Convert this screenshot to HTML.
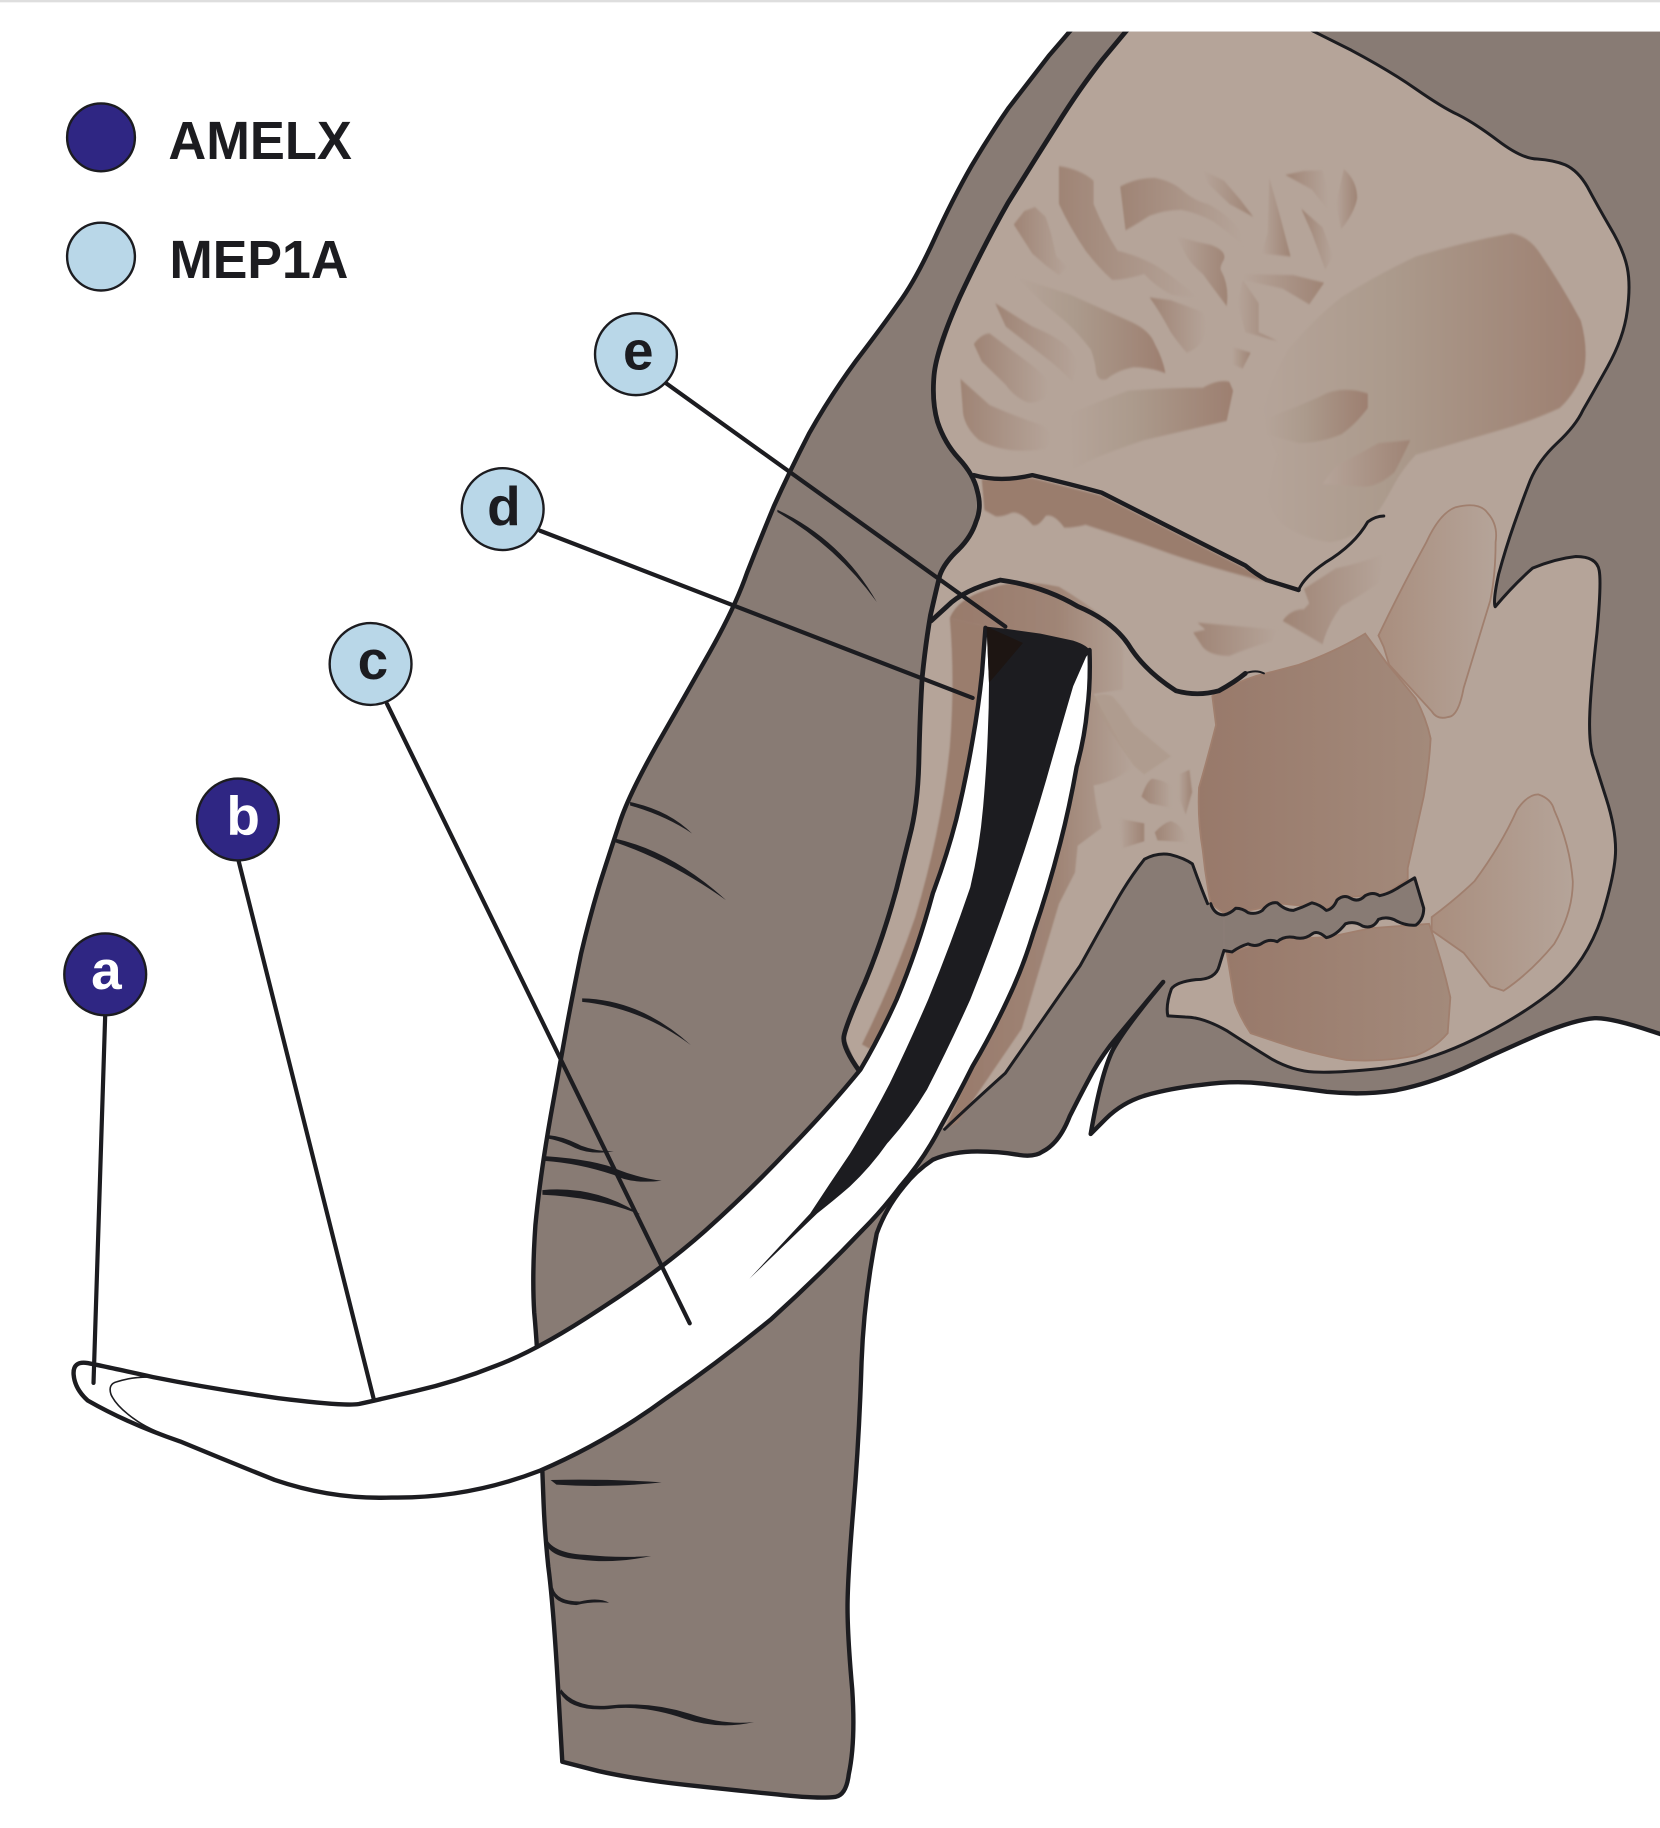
<!DOCTYPE html>
<html><head><meta charset="utf-8"><title>Elephant tusk diagram</title>
<style>
html,body{margin:0;padding:0;background:#fff;width:1660px;height:1828px;overflow:hidden}
svg{display:block}
path,line,circle,polyline,polygon{vector-effect:non-scaling-stroke}
text{font-family:"Liberation Sans",sans-serif;font-weight:700;fill:#1c1c20}
.ol{fill:none;stroke:#1c1c20;stroke-linecap:round;stroke-linejoin:round}
.mb{stroke:#a07f6e;stroke-width:1.8}
</style></head><body>
<svg xmlns="http://www.w3.org/2000/svg" width="1660" height="1828" viewBox="0 0 1420 1563.7">
<defs>
<linearGradient id="gl"><stop offset="0" stop-color="#9f8475"/><stop offset="1" stop-color="#b5a499"/></linearGradient>
<linearGradient id="gr"><stop offset="0" stop-color="#b5a499"/><stop offset="1" stop-color="#9f8475"/></linearGradient>
<linearGradient id="gs"><stop offset="0" stop-color="#b5a499"/><stop offset=".4" stop-color="#ab9a8c"/><stop offset="1" stop-color="#9d7f70"/></linearGradient>
<linearGradient id="gm"><stop offset="0" stop-color="#98796a"/><stop offset="1" stop-color="#a38a7b"/></linearGradient>
<linearGradient id="gp"><stop offset="0" stop-color="#a98e7e"/><stop offset="1" stop-color="#b5a499"/></linearGradient>
<linearGradient id="gk"><stop offset="0" stop-color="#987a6b"/><stop offset=".6" stop-color="#a08576"/><stop offset="1" stop-color="#b5a499"/></linearGradient>
<filter id="soft" x="-5%" y="-5%" width="110%" height="110%"><feGaussianBlur stdDeviation="1.6"/></filter>
</defs>
<rect width="1420" height="1563.7" fill="#fff"/>

<!-- Grey head and trunk -->
<path fill="#887b74" stroke="#1c1c20" stroke-width="4.4" stroke-linejoin="round" d="M921 20 L915 27 L897 48 Q880 70 863 92 Q847 115 831 142 Q815 170 799 205 Q783 240 769 259 Q755 279 732 309 Q710 339 692 371 Q675 404 662 433 Q650 462 639 490 Q629 519 607 558 Q585 597 562 637 Q539 678 531 701 Q523 725 514 753 Q505 782 497 816 Q490 850 485 877 Q480 904 471 955 Q462 1006 458 1048 Q455 1091 457 1123 Q460 1155 462 1208 Q464 1261 465 1286 Q466 1311 469 1340 Q473 1370 477 1437 L481 1507 L512 1515 Q543 1522 588 1527 Q634 1532 665 1535 Q700 1539 715 1537 Q724 1535 726 1518 Q732 1490 729 1445 Q725 1400 725 1375 Q725 1350 730 1290 Q735 1230 737 1165 Q739 1110 750 1055 Q758 1033 773 1015 Q783 1002 798 992 Q815 985 836 985 Q855 985 872 988 Q885 990 892 985 Q906 978 915 955 Q924 937 931 924 Q938 910 950 894 Q963 878 995 840 Q963 878 952 898 Q942 918 933 970 L946 957 Q960 943 980 937 Q1001 931 1028 928 Q1056 924 1081 927 Q1106 930 1135 934 Q1165 937 1192 933 Q1220 928 1252 914 Q1284 899 1316 885 Q1348 872 1364 871 Q1380 870 1430 888 L1430 20 Z"/>

<!-- Bone fill -->
<path fill="#b5a499" d="M963 27 L1124 27 L1156 43 Q1188 60 1211 76 Q1234 92 1247 98 Q1261 105 1281 120 Q1302 136 1315 136 Q1329 137 1339 141 Q1350 146 1358 160 Q1366 175 1377 194 Q1389 214 1392 229 Q1395 244 1392 266 Q1389 289 1375 314 Q1361 339 1354 351 Q1348 364 1332 379 Q1316 394 1309 411 Q1302 429 1295 449 Q1288 469 1282 491 Q1277 514 1279 519 Q1295 500 1311 486 Q1330 478 1348 476 Q1366 476 1368 488 Q1370 499 1366 542 Q1361 586 1360 609 Q1359 632 1362 645 Q1366 658 1374 683 Q1382 708 1382 727 Q1382 746 1370 785 Q1357 823 1330 846 Q1302 869 1261 889 Q1220 909 1181 914 Q1143 918 1124 917 Q1106 916 1088 906 Q1070 895 1050 882 Q1029 870 1014 870 L999 869 Q997 860 1002 846 Q1006 840 1023 838 Q1040 838 1043 826 L1047 813 L1047 783 Q1040 780 1033 773 Q1026 756 1020 739 Q1013 734 1001 731 Q990 729 979 735 Q967 750 956 769 Q940 797 924 826 Q892 872 860 918 Q830 945 808 966 L735 916 L722 886 L740 840 L755 804 L767 760 L778 716 L786 653 L789 578 L796 526 L804 492 L820 470 L835 446 L836 420 L820 392 L802 361 L799 321 L821 254 L862 174 L904 107 Z"/>

<!-- Upper skull details (zoom-2 space) -->
<g transform="translate(710 0) scale(.4555 .4987)">
<g filter="url(#soft)">
<path fill="url(#gs)" d="M810 700 Q830 650 860 600 Q905 550 960 510 Q1030 470 1100 440 Q1190 415 1280 400 Q1310 405 1330 430 Q1375 490 1410 550 Q1425 600 1415 640 Q1395 680 1370 700 Q1310 725 1250 740 Q1175 760 1100 780 Q1075 805 1060 830 Q1040 865 1020 890 Q985 925 940 930 Q890 925 850 900 Q830 880 820 850 Q830 810 840 780 Q820 745 810 700 Z"/>
<polygon fill="url(#gl)" points="345,385 365,362 385,355 405,372 415,400 425,440 447,458 430,472 405,455 380,435"/>
<path fill="url(#gl)" d="M430 285 Q470 290 495 310 L495 350 Q515 395 540 430 Q585 440 620 460 Q660 485 690 510 Q660 510 640 505 Q610 490 590 470 Q555 480 530 480 Q505 460 480 430 Q450 390 430 350 Z"/>
<path fill="url(#gl)" d="M545 320 Q575 305 610 305 Q640 310 660 325 Q685 345 710 350 Q750 370 770 395 L775 420 Q750 400 720 380 Q690 365 660 360 Q630 360 600 370 Q575 385 555 395 Z"/>
<polygon fill="url(#gr)" points="700,292 740,310 770,342 795,372 750,350 710,315"/>
<polygon fill="url(#gr)" points="825,305 845,370 865,440 810,435 822,400"/>
<polygon fill="url(#gl)" points="855,300 890,293 925,292 935,325 935,360 905,325"/>
<path fill="url(#gr)" d="M965 290 Q990 310 990 340 Q985 365 960 393 L950 350 Z"/>
<polygon fill="url(#gl)" points="885,358 925,390 945,440 930,462 905,400"/>
<path fill="url(#gr)" d="M650 405 L690 415 L715 420 Q745 430 740 445 Q730 460 735 465 Q750 490 745 525 Q720 495 700 470 Q680 455 670 440 Z"/>
<polygon fill="url(#gr)" points="775,470 870,472 928,485 900,522 850,495 775,480"/>
<path fill="url(#gs)" d="M350 475 L450 505 L560 550 Q600 565 610 590 Q625 615 630 640 Q600 630 570 630 Q540 635 520 650 Q505 655 500 640 Q498 620 490 600 Q465 570 440 550 L400 520 Z"/>
<path fill="url(#gl)" d="M600 510 L640 515 L700 535 Q710 555 705 570 Q700 595 670 605 Q655 590 640 570 Q620 535 600 510 Z"/>
<path fill="url(#gl)" d="M310 520 L380 560 Q420 575 440 590 Q460 605 465 625 L455 655 Q430 630 400 610 L330 560 Z"/>
<path fill="url(#gl)" d="M270 590 Q285 572 300 572 L370 620 Q400 640 410 655 Q410 680 400 685 Q385 692 370 690 Q345 680 330 660 L285 620 Z"/>
<path fill="url(#gl)" d="M245 650 L300 695 Q350 715 400 730 Q415 740 415 755 L405 770 Q370 775 340 772 Q305 768 280 755 Q255 735 250 710 Z"/>
<path fill="url(#gs)" d="M450 710 Q500 690 560 670 Q630 665 700 665 Q730 650 750 655 L757 670 L745 722 L590 755 Q540 770 500 785 L455 805 Z"/>
<polygon fill="url(#gr)" points="775,480 805,520 805,570 840,585 780,570 765,520"/>
<polygon fill="url(#gr)" points="755,595 790,605 775,632 755,625"/>
<path fill="url(#gs)" d="M815 720 Q870 700 920 680 Q960 660 1010 675 L1010 700 Q985 730 960 745 Q920 760 880 760 L820 745 Z"/>
<path fill="url(#gr)" d="M925 830 Q940 810 950 800 L1030 760 L1090 755 Q1075 785 1060 810 Q1030 835 1000 835 Z"/>
<path fill="#9a7d6d" d="M285 822 L380 820 L510 850 L780 975 L820 998 Q720 975 640 950 Q580 930 530 915 L480 900 Q460 905 440 905 Q420 880 405 885 Q390 905 380 900 Q355 875 340 880 Q320 888 310 885 L290 875 Z"/>
<path fill="url(#gl)" d="M890 1010 L950 975 Q1000 965 1040 950 L1030 1000 Q1000 1020 960 1040 Q935 1070 925 1105 L850 1065 Q865 1045 890 1045 L900 1035 Z"/>
<path fill="url(#gl)" d="M690 1068 L840 1080 L830 1100 Q790 1110 750 1125 Q715 1125 700 1110 L682 1085 L705 1080 Z"/>
</g>
<path fill="url(#gp)" class="mb" d="M1030 1090 Q1075 1005 1120 930 Q1145 880 1175 870 Q1220 860 1235 880 Q1255 900 1250 930 Q1250 985 1240 1030 Q1215 1105 1190 1180 Q1180 1230 1160 1230 Q1140 1235 1130 1220 Q1090 1180 1050 1140 L1040 1110 Z"/>
</g>

<!-- Lower skull & jaw details (zoom-4 space) -->
<g transform="translate(710 479) scale(.4555 .3819)">
<g filter="url(#soft)">
<path fill="url(#gk)" d="M225 130 Q240 85 300 65 Q350 40 430 60 Q480 95 520 135 Q555 175 550 220 L550 290 L495 300 Q530 380 570 460 Q540 495 495 505 Q500 560 510 600 L465 640 L460 700 L430 770 L360 1050 L240 1260 L215 1275 L300 1050 L470 300 L480 200 L298 150 Z"/>
<path fill="#9a7d6d" d="M225 130 Q235 270 225 420 Q210 600 160 800 Q120 940 60 1085 L75 1095 L150 960 L220 730 L265 480 L295 210 L298 150 Z"/>
<path fill="#ab9789" d="M490 310 Q505 295 530 305 Q550 330 570 370 Q610 410 640 440 L590 480 L570 460 L530 390 Z" opacity=".6"/>
<path fill="url(#gl)" d="M585 530 Q595 495 605 490 Q635 495 640 510 L640 555 L600 545 Z"/>
<polygon fill="url(#gr)" points="655,480 675,470 680,520 668,570 655,530"/>
<polygon fill="url(#gr)" points="545,580 590,590 590,630 550,645"/>
<path fill="url(#gl)" d="M610 610 Q625 590 640 585 Q665 595 670 632 L615 628 Z"/>
</g>
<path fill="url(#gm)" class="mb" d="M718 305 Q760 275 800 260 L880 235 Q950 205 1005 165 L1045 230 L1100 310 Q1120 355 1128 400 Q1125 465 1115 530 L1085 690 L1085 715 L1040 750 L970 755 L935 780 L850 770 L745 795 L715 770 Q705 710 700 650 Q690 580 693 510 Q710 440 725 370 Z"/>
<path fill="url(#gp)" class="mb" d="M1130 800 Q1175 760 1210 720 Q1260 640 1290 560 Q1310 525 1330 525 Q1355 535 1360 560 Q1390 640 1395 720 Q1395 790 1360 860 Q1315 925 1265 965 L1240 955 L1190 880 L1130 830 Z"/>
<path fill="url(#gm)" class="mb" d="M745 880 L840 850 L935 845 L1015 825 L1125 815 Q1150 900 1165 980 L1160 1060 Q1135 1095 1100 1110 Q1040 1125 970 1120 Q900 1105 840 1080 L790 1060 Q770 1025 760 990 Z"/>
<path fill="#887b74" d="M740 795 Q752 792 762 780 Q775 780 785 790 Q800 795 812 785 Q825 765 840 768 Q855 785 870 785 Q888 778 905 768 Q920 772 932 785 Q945 782 952 762 Q965 748 978 758 Q992 768 1005 752 Q1020 742 1032 752 Q1050 748 1070 732 L1098 712 L1115 780 Q1115 805 1100 818 Q1080 820 1060 806 Q1045 798 1030 805 Q1020 828 1000 820 Q985 808 968 815 Q950 842 932 846 Q915 828 905 838 Q890 852 870 845 Q852 842 840 855 Q825 848 812 858 Q800 868 785 860 Q770 865 755 878 L740 875 Z"/>
<path class="ol" stroke-width="3" d="M715 770 Q722 795 740 795 Q752 792 762 780 Q775 780 785 790 Q800 795 812 785 Q825 765 840 768 Q855 785 870 785 Q888 778 905 768 Q920 772 932 785 Q945 782 952 762 Q965 748 978 758 Q992 768 1005 752 Q1020 742 1032 752 Q1050 748 1070 732 L1098 712 L1115 780 Q1115 805 1100 818 Q1080 820 1060 806 Q1045 798 1030 805 Q1020 828 1000 820 Q985 808 968 815 Q950 842 932 846 Q915 828 905 838 Q890 852 870 845 Q852 842 840 855 Q825 848 812 858 Q800 868 785 860 Q770 865 755 878 L740 875"/>
</g>

<!-- Skull outlines -->
<path class="ol" stroke-width="4.8" d="M969 20 L963 27 L943 51 Q924 75 904 107 Q883 140 862 174 Q842 209 821 254 Q801 299 799 321 Q797 344 802 361 Q808 379 820 392 Q833 406 836 420 Q840 434 835 446 Q831 459 820 470 Q808 481 804 492 Q801 504 796 526 Q792 549 789 578 Q787 608 786 653 Q785 690 778 716 L767 760 Q755 804 740 840 Q724 876 722 886 Q720 895 735 916"/>
<path class="ol" stroke-width="3" d="M1110 20 L1124 27 L1156 43 Q1188 60 1211 76 Q1234 92 1247 98 Q1261 105 1281 120 Q1302 136 1315 136 Q1329 137 1339 141 Q1350 146 1358 160 Q1366 175 1377 194 Q1389 214 1392 229 Q1395 244 1392 266 Q1389 289 1375 314 Q1361 339 1354 351 Q1348 364 1332 379 Q1316 394 1309 411 Q1302 429 1295 449 Q1288 469 1282 491 Q1277 514 1279 519 Q1295 500 1311 486 Q1330 478 1348 476 Q1366 476 1368 488 Q1370 499 1366 542 Q1361 586 1360 609 Q1359 632 1362 645 Q1366 658 1374 683 Q1382 708 1382 727 Q1382 746 1370 785 Q1357 823 1330 846 Q1302 869 1261 889 Q1220 909 1181 914 Q1143 918 1124 917 Q1106 916 1088 906 Q1070 895 1050 882 Q1029 870 1014 870 L999 869 Q997 860 1002 846 Q1006 840 1023 838 Q1040 838 1043 826 L1047 813"/>
<path class="ol" stroke-width="3" d="M808 966 Q830 945 860 918 Q892 872 924 826 Q940 797 956 769 Q967 750 979 735 Q990 729 1001 731 Q1013 734 1020 739 Q1026 756 1033 773"/>
<g transform="translate(710 0) scale(.4555 .4987)">
<path class="ol" stroke-width="4.4" d="M270 815 Q320 828 380 815 Q450 830 510 845 L780 970 Q800 985 820 995 L880 1012"/>
<path class="ol" stroke-width="3" d="M880 1012 Q890 990 930 965 Q985 935 1010 895 Q1025 885 1040 885"/>
<path class="ol" stroke-width="4.8" d="M190 1065 L220 1040 Q250 1012 320 995 Q400 1005 465 1040 Q530 1065 560 1105 Q590 1150 650 1185 Q690 1195 730 1185 Q760 1170 780 1155"/>
<path class="ol" stroke-width="2" d="M780 1155 Q800 1148 815 1155"/>
</g>

<!-- White page margin above the crop, and the hairline at the very top -->
<rect x="880" y="0" width="540" height="27" fill="#fff"/>
<rect x="0" y="0" width="1420" height="2" fill="#dedede"/>

<!-- Tusk -->
<path fill="#fff" d="M736 915 Q710 947 675 983 Q640 1020 603 1053 Q566 1086 513 1120 Q460 1155 425 1168 Q390 1182 355 1190 Q321 1198 307 1201 Q294 1203 238 1196 Q181 1188 131 1178 Q81 1167 75 1166 Q62 1164 63 1176 Q64 1188 75 1198 Q110 1218 154 1233 Q195 1250 235 1266 Q285 1283 335 1281 Q400 1282 462 1258 Q520 1233 570 1196 Q615 1165 659 1129 Q700 1092 738 1052 Q755 1035 770 1015 Q790 992 804 965 Q818 940 832 912 Q848 885 862 855 Q875 828 884 798 Q897 760 907 721 Q915 690 921 656 Q928 630 930 607 Q933 585 932 556 L843 537 L840 576 Q837 605 832 633 Q826 668 818 701 Q810 732 798 764 Q785 812 767 855 Q752 888 736 915 Z"/>
<path class="ol" stroke-width="4.4" d="M843 537 L840 576 Q837 605 832 633 Q826 668 818 701 Q810 732 798 764 Q785 812 767 855 Q752 888 736 915 Q710 947 675 983 Q640 1020 603 1053 Q566 1086 513 1120 Q460 1155 425 1168 Q390 1182 355 1190 Q321 1198 307 1201 Q294 1203 238 1196 Q181 1188 131 1178 Q81 1167 75 1166 Q62 1164 63 1176 Q64 1188 75 1198 Q110 1218 154 1233 Q195 1250 235 1266 Q285 1283 335 1281 Q400 1282 462 1258 Q520 1233 570 1196 Q615 1165 659 1129 Q700 1092 738 1052 Q755 1035 770 1015 Q790 992 804 965 Q818 940 832 912 Q848 885 862 855 Q875 828 884 798 Q897 760 907 721 Q915 690 921 656 Q928 630 930 607 Q933 585 932 556"/>
<path class="ol" stroke-width="1.6" d="M156 1233 Q130 1224 118 1216 Q100 1204 95 1193 Q92 1184 100 1182 Q112 1178 127 1178"/>
<!-- Pulp -->
<path fill="#1c1c20" d="M844 536 L861 538 L890 542 L918 548 Q933 553 932 558 L929 562 L918 587 Q906 628 895 667 Q882 712 867 755 Q850 805 830 855 Q812 895 793 932 Q778 957 759 978 Q745 998 727 1015 Q712 1028 699 1038 L641 1094 L693 1038 Q710 1012 727 987 Q745 958 761 927 Q778 892 794 855 Q814 806 830 759 Q838 725 841 690 Q844 655 845 627 Q846 605 846 584 Z"/>
<polygon fill="#1d1512" points="844,536 875,550 853,576 846,584"/>

<!-- Trunk wrinkles -->
<g fill="#1c1c20">
<path d="M665 436 Q720 462 750 515 Q716 468 665 438 Z"/>
<path d="M539 686 Q572 693 592 713 Q570 698 539 689 Z"/>
<path d="M525 717 Q575 728 621 770 Q575 737 525 720 Z"/>
<path d="M498 854 Q548 855 591 894 Q548 862 498 857 Z"/>
<path d="M469 971 Q482 972 497 980 Q510 985 525 985 Q505 988 492 982 Q480 976 469 974 Z"/>
<path d="M466 989 Q510 992 530 1001 Q548 1008 566 1010 Q540 1013 525 1005 Q495 995 466 993 Z"/>
<path d="M464 1018 Q510 1014 548 1039 Q510 1024 464 1022 Z"/>
<path d="M471 1266 Q520 1265 566 1268 Q520 1273 476 1270 Z"/>
<path d="M466 1311 Q468 1328 500 1330 Q530 1333 557 1331 Q525 1338 496 1334 Q468 1332 466 1317 Z"/>
<path d="M473 1358 Q476 1370 496 1370 Q512 1366 521 1371 Q505 1370 493 1373 Q473 1372 472 1360 Z"/>
<path d="M480 1445 Q492 1461 520 1459 Q555 1455 590 1466 Q620 1476 645 1473 Q615 1480 585 1470 Q550 1458 520 1462 Q488 1464 479 1448 Z"/>
</g>

<!-- Leader lines -->
<g stroke="#1c1c20" stroke-width="4.2" stroke-linecap="round">
<line x1="90" y1="868" x2="80" y2="1183"/>
<line x1="204" y1="736" x2="320" y2="1198"/>
<line x1="331" y1="602" x2="590" y2="1132"/>
<line x1="462" y1="454" x2="832" y2="597"/>
<line x1="570" y1="328" x2="860" y2="536"/>
</g>

<!-- Legend -->
<circle cx="86.4" cy="117.5" r="29" fill="#2f2683" stroke="#1c1c20" stroke-width="2.4"/>
<circle cx="86.4" cy="219.5" r="29" fill="#b9d7e8" stroke="#1c1c20" stroke-width="2.4"/>
<text x="144" y="136" font-size="46" textLength="157" lengthAdjust="spacingAndGlyphs">AMELX</text>
<text x="145" y="238" font-size="46" textLength="153" lengthAdjust="spacingAndGlyphs">MEP1A</text>

<!-- Callouts -->
<g stroke="#1c1c20" stroke-width="2.4">
<circle cx="90" cy="833.5" r="35" fill="#2f2683"/>
<circle cx="203.5" cy="701" r="35" fill="#2f2683"/>
<circle cx="317" cy="568" r="35" fill="#b9d7e8"/>
<circle cx="430" cy="435.5" r="35" fill="#b9d7e8"/>
<circle cx="544" cy="303" r="35" fill="#b9d7e8"/>
</g>
<g font-size="47" text-anchor="middle">
<text x="91" y="846" style="fill:#fff">a</text>
<text x="208" y="714" style="fill:#fff">b</text>
<text x="319" y="581">c</text>
<text x="431" y="449">d</text>
<text x="546" y="316">e</text>
</g>
</svg>
</body></html>
